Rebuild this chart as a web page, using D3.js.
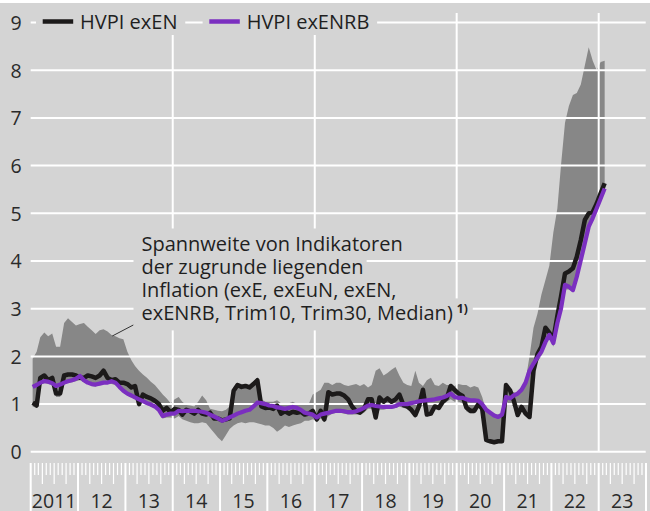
<!DOCTYPE html>
<html>
<head>
<meta charset="UTF-8" />
<title>HVPI exEN / exENRB</title>
<script src="https://d3js.org/d3.v7.min.js"></script>
<style>
  body { margin: 0; background: #fff; }
  svg { display: block; font-family: "Open Sans", sans-serif; }
</style>
</head>
<body>
<svg id="chart" width="650" height="511"></svg>
<script>
// monthly values, Jan 2011 - Feb 2023
var startYear = 2011;
var exEN = [
  1.03, 0.97, 1.55, 1.6, 1.5, 1.55, 1.22, 1.22, 1.6, 1.62, 1.62, 1.6,
  1.55, 1.55, 1.6, 1.58, 1.55, 1.6, 1.7, 1.55, 1.5, 1.52, 1.45, 1.45,
  1.42, 1.35, 1.38, 1.0, 1.2, 1.15, 1.12, 1.07, 1.0, 0.86, 0.92, 0.83,
  0.9, 0.88, 0.78, 0.88, 0.85, 0.8, 0.88, 0.8, 0.78, 0.82, 0.7, 0.7,
  0.66, 0.68, 0.7, 1.28, 1.4, 1.36, 1.38, 1.35, 1.42, 1.5, 0.95, 0.92,
  0.93, 0.9, 0.97, 0.8, 0.85, 0.8, 0.84, 0.82, 0.84, 0.78, 0.8, 0.86,
  0.68, 0.86, 0.68, 1.25, 1.2, 1.22, 1.22, 1.18, 1.1, 0.95, 0.85, 0.82,
  0.9, 1.1, 1.1, 0.72, 1.14, 1.05, 1.12, 1.05, 1.1, 1.2, 0.98, 0.95,
  0.88, 0.77, 0.95, 1.3, 0.78, 0.8, 0.95, 0.92, 1.05, 1.12, 1.38, 1.3,
  1.22, 1.17, 0.93, 0.86, 0.86, 1.0, 0.9, 0.25, 0.22, 0.2, 0.22, 0.22,
  1.4, 1.29, 1.08, 0.77, 0.94, 0.8, 0.73, 1.7, 2.05, 2.2, 2.6, 2.5,
  2.35, 2.85, 3.25, 3.74, 3.78, 3.85, 4.09, 4.44, 4.86, 5.0, 5.03, 5.2,
  5.42, 5.63
];
var exENRB = [
  1.36, 1.4, 1.45, 1.48, 1.47, 1.44, 1.38, 1.41, 1.45, 1.48, 1.5, 1.53,
  1.59, 1.5, 1.45, 1.42, 1.41, 1.43, 1.45, 1.45, 1.48, 1.45, 1.36, 1.28,
  1.22, 1.18, 1.14, 1.1, 1.06, 1.02, 0.99, 0.95, 0.88, 0.75, 0.78, 0.8,
  0.8, 0.86, 0.85, 0.86, 0.86, 0.86, 0.85, 0.84, 0.82, 0.78, 0.74, 0.7,
  0.65, 0.68, 0.72, 0.76, 0.8, 0.83, 0.86, 0.88, 0.95, 1.03, 1.02, 1.0,
  0.97, 0.96, 0.93, 0.92, 0.9, 0.92, 0.94, 0.92, 0.88, 0.82, 0.8, 0.78,
  0.72, 0.78, 0.8, 0.82, 0.84, 0.86, 0.86, 0.85, 0.83, 0.83, 0.85, 0.88,
  0.92, 0.97, 0.98, 0.96, 0.95, 0.94, 0.94, 0.94, 0.96, 1.0, 1.0, 1.0,
  1.02, 1.04, 1.06, 1.07, 1.08, 1.09, 1.1, 1.12, 1.14, 1.17, 1.22, 1.15,
  1.13, 1.13, 1.1, 1.08, 1.08, 1.07, 1.0, 0.88, 0.82, 0.76, 0.73, 0.78,
  1.15, 1.12, 1.18, 1.22, 1.3, 1.45, 1.7, 1.85, 1.98, 2.1, 2.3, 2.45,
  2.28, 2.7, 3.0, 3.5, 3.46, 3.39, 3.67, 4.02, 4.37, 4.72, 4.9, 5.1,
  5.31, 5.52
];
// range of underlying inflation indicators
var bandLow = [
  0.95, 0.92, 1.4, 1.45, 1.42, 1.4, 1.15, 1.15, 1.42, 1.45, 1.46, 1.48,
  1.5, 1.46, 1.42, 1.38, 1.37, 1.4, 1.42, 1.42, 1.42, 1.4, 1.33, 1.25,
  1.18, 1.14, 1.1, 0.95, 1.02, 0.98, 0.95, 0.92, 0.85, 0.7, 0.72, 0.72,
  0.7, 0.75, 0.68, 0.65, 0.62, 0.6, 0.6, 0.62, 0.6, 0.5, 0.4, 0.3,
  0.22, 0.35, 0.48, 0.55, 0.6, 0.62, 0.6, 0.62, 0.62, 0.6, 0.58, 0.55,
  0.55, 0.5, 0.42, 0.48, 0.55, 0.52, 0.55, 0.58, 0.6, 0.65, 0.65, 0.68,
  0.62, 0.7, 0.62, 0.75, 0.8, 0.82, 0.82, 0.8, 0.78, 0.78, 0.78, 0.78,
  0.82, 0.9, 0.9, 0.68, 0.88, 0.88, 0.9, 0.9, 0.92, 0.95, 0.92, 0.9,
  0.84, 0.72, 0.9, 0.98, 0.74, 0.76, 0.9, 0.88, 0.98, 1.05, 1.1, 1.05,
  1.05, 1.02, 0.85, 0.8, 0.8, 0.95, 0.85, 0.2, 0.18, 0.16, 0.18, 0.18,
  1.05, 1.0, 0.95, 0.75, 0.9, 0.78, 0.7, 1.6, 1.9, 2.0, 2.25, 2.4,
  2.2, 2.6, 2.95, 3.4, 3.4, 3.35, 3.6, 4.0, 4.35, 4.7, 4.85, 5.05,
  5.25, 5.45
];
var bandHigh = [
  1.95, 2.1, 2.4, 2.5, 2.42, 2.48, 2.2, 2.2, 2.7, 2.8, 2.72, 2.65,
  2.68, 2.7, 2.62, 2.55, 2.47, 2.55, 2.57, 2.52, 2.45, 2.42, 2.38, 2.36,
  2.1, 1.92, 1.8, 1.7, 1.62, 1.55, 1.47, 1.4, 1.3, 1.2, 1.12, 1.02,
  1.1, 1.15, 1.05, 0.98, 0.97, 0.95, 1.05, 1.18, 1.08, 0.9, 0.88, 0.86,
  0.85, 0.88, 0.95, 1.35, 1.45, 1.42, 1.42, 1.4, 1.48, 1.55, 1.1, 1.05,
  1.05, 1.05, 1.08, 1.02, 1.0, 1.02, 1.05, 1.0, 1.0, 0.98, 1.0, 1.2,
  1.25, 1.3, 1.45, 1.45, 1.4, 1.45, 1.45, 1.4, 1.38, 1.4, 1.42, 1.38,
  1.42, 1.35, 1.4, 1.7, 1.75, 1.6, 1.65, 1.72, 1.78, 1.6, 1.45, 1.4,
  1.38, 1.7, 1.45, 1.38, 1.5, 1.55, 1.4, 1.38, 1.45, 1.4, 1.4, 1.38,
  1.42, 1.4, 1.4, 1.35, 1.38, 1.35, 1.15, 0.85, 0.82, 0.78, 0.78, 0.8,
  1.4, 1.3, 1.25, 1.22, 1.3, 1.5, 2.0, 2.6, 2.9, 3.3, 3.6, 3.9,
  4.6, 5.1, 6.0, 6.9, 7.25, 7.48, 7.52, 7.7, 8.1, 8.48, 8.2, 8.0,
  8.17, 8.2
];
var yTicks = [0, 1, 2, 3, 4, 5, 6, 7, 8, 9];
var yearLabels = ["2011", "12", "13", "14", "15", "16", "17", "18", "19", "20", "21", "22", "23"];
var gridYears = [2014, 2017, 2020, 2023];
var legendNames = ["HVPI exEN", "HVPI exENRB"];
var legendColors = ["#1c1a1a", "#7b2fc0"];
var noteLines = [
  "Spannweite von Indikatoren",
  "der zugrunde liegenden",
  "Inflation (exE, exEuN, exEN,",
  "exENRB, Trim10, Trim30, Median)"
];

var bg = "#d4d4d4";
var svg = d3.select("#chart");

var x = d3.scaleTime()
  .domain([new Date(2011, 0, 1), new Date(2024, 0, 1)])
  .range([30.7, 646]);
var y = d3.scaleLinear().domain([0, 9]).range([451.8, 22.5]);

var rows = exEN.map(function (v, i) {
  return {
    date: new Date(startYear, i, 16),
    en: v, enrb: exENRB[i], lo: bandLow[i], hi: bandHigh[i]
  };
});

// background panel
svg.append("rect").attr("width", 650).attr("height", 511).attr("fill", "#fff");
svg.append("rect").attr("y", 3).attr("width", 650).attr("height", 508).attr("fill", bg);

// band
var area = d3.area()
  .x(function (d) { return x(d.date); })
  .y0(function (d) { return y(d.lo); })
  .y1(function (d) { return y(d.hi); });
svg.append("path").datum(rows).attr("d", area).attr("fill", "#878787");

// gridlines
svg.append("g").selectAll("line").data(yTicks).enter().append("line")
  .attr("x1", 30.7).attr("x2", 645.7)
  .attr("y1", function (d) { return y(d); }).attr("y2", function (d) { return y(d); })
  .attr("stroke", "#fff").attr("stroke-width", 2);
svg.append("g").selectAll("line").data(gridYears).enter().append("line")
  .attr("x1", function (d) { return x(new Date(d, 0, 1)); })
  .attr("x2", function (d) { return x(new Date(d, 0, 1)); })
  .attr("y1", 13).attr("y2", y(0))
  .attr("stroke", "#fff").attr("stroke-width", 2);

// lines
var lineEN = d3.line().x(function (d) { return x(d.date); }).y(function (d) { return y(d.en); });
var lineENRB = d3.line().x(function (d) { return x(d.date); }).y(function (d) { return y(d.enrb); });
svg.append("path").datum(rows).attr("d", lineEN)
  .attr("fill", "none").attr("stroke", legendColors[0]).attr("stroke-width", 4.5)
  .attr("stroke-linejoin", "round");
svg.append("path").datum(rows).attr("d", lineENRB)
  .attr("fill", "none").attr("stroke", legendColors[1]).attr("stroke-width", 4.2)
  .attr("stroke-linejoin", "round");

// annotation: boxes first, then texts on top
var note = svg.append("g");
var boxes = note.append("g");
var texts = note.append("g");
var noteX = 141.5, noteY0 = 250.5, noteStep = 23.3;
noteLines.forEach(function (t, i) {
  var by = noteY0 + i * noteStep;
  var tx = texts.append("text").attr("x", noteX).attr("y", by)
    .attr("font-size", 20).attr("fill", "#1f1f1f").text(t);
  var w = tx.node().getComputedTextLength();
  if (i === noteLines.length - 1) {
    texts.append("text").attr("x", noteX + w + 4).attr("y", by - 7)
      .attr("font-size", 12).attr("font-weight", "bold").attr("fill", "#1f1f1f").text("1)");
    w += 17;
  }
  boxes.append("rect").attr("fill", bg)
    .attr("x", noteX - 8).attr("y", by - 22).attr("width", w + 11)
    .attr("height", i === noteLines.length - 1 ? 32 : noteStep + 1);
});
note.append("line").attr("x1", 112.3).attr("y1", 336).attr("x2", 133.3).attr("y2", 325)
  .attr("stroke", "#333").attr("stroke-width", 1);

// legend
var lg = svg.append("g");
var legX = [42.7, 209.3];
legendNames.forEach(function (name, i) {
  var r = lg.append("rect").attr("fill", bg);
  lg.append("line").attr("x1", legX[i]).attr("x2", legX[i] + 30.5).attr("y1", 21.5).attr("y2", 21.5)
    .attr("stroke", legendColors[i]).attr("stroke-width", 4.5);
  var tx = lg.append("text").attr("x", legX[i] + 37.4).attr("y", 29)
    .attr("font-size", 20).attr("fill", "#1f1f1f").text(name);
  var w = tx.node().getComputedTextLength();
  r.attr("x", legX[i] - 6.7).attr("y", 8).attr("width", w + 37.4 + 14.5).attr("height", 27);
});

// y labels
svg.append("g").selectAll("text").data(yTicks).enter().append("text")
  .attr("x", 16).attr("y", function (d) { return y(d) + 7.3; })
  .attr("text-anchor", "middle").attr("font-size", 19.5).attr("fill", "#2a2a2a")
  .text(function (d) { return d; });

// x axis ticks (months / quarters / years)
var months = d3.timeMonth.range(new Date(2011, 0, 1), new Date(2024, 0, 2));
svg.append("g").selectAll("line").data(months).enter().append("line")
  .attr("x1", function (d) { return x(d); }).attr("x2", function (d) { return x(d); })
  .attr("y1", 463)
  .attr("y2", function (d) { return d.getMonth() === 0 ? 511 : (d.getMonth() % 3 === 0 ? 484 : 475); })
  .attr("stroke", "#fff")
  .attr("stroke-width", function (d) { return d.getMonth() === 0 ? 2 : 1.2; });

svg.append("g").selectAll("text").data(yearLabels).enter().append("text")
  .attr("x", function (d, i) { return x(new Date(startYear + i, 6, 1)); })
  .attr("y", 507.5)
  .attr("text-anchor", "middle").attr("font-size", 19.5).attr("fill", "#2a2a2a")
  .text(function (d) { return d; });
</script>
</body>
</html>
